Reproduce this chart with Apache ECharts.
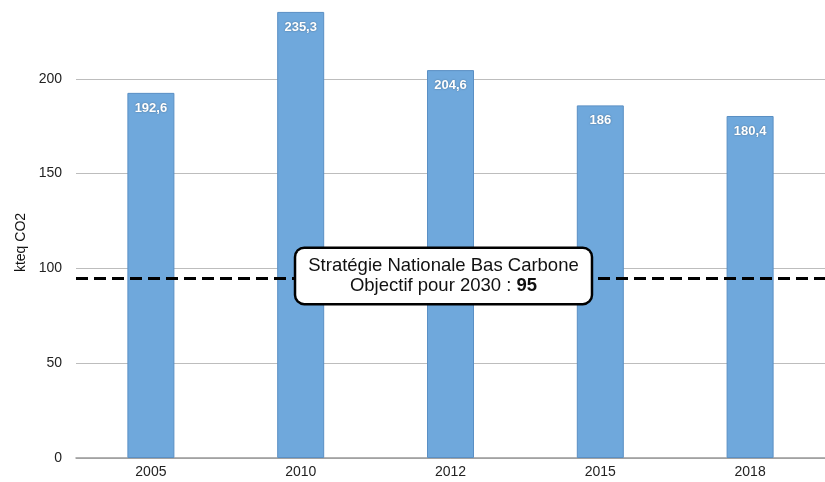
<!DOCTYPE html>
<html><head><meta charset="utf-8">
<script src="https://cdn.jsdelivr.net/npm/echarts@6/dist/echarts.min.js"></script>
<style>html,body{margin:0;padding:0;background:#fff}#c{width:825px;height:482px}</style>
</head><body><div id="c"></div>
<script>
const categories = ['2005','2010','2012','2015','2018'];
const values = [192.6, 235.3, 204.6, 186, 180.4];
const targetValue = 95;
const targetTitle = 'Stratégie Nationale Bas Carbone';
const targetText = 'Objectif pour 2030 : ';
const yTicks = [0, 50, 100, 150, 200];

const chart = echarts.init(document.getElementById('c'));
chart.setOption({
  animation: false,
  textStyle: {fontFamily: 'Liberation Sans, Arial, sans-serif'},
  grid: {left: 76, right: -1, top: 3, bottom: 24},
  xAxis: {
    type: 'category', data: categories,
    axisLine: {lineStyle: {color: '#999', width: 1.5}},
    axisTick: {show: false},
    axisLabel: {color: '#222', fontSize: 14, margin: 7}
  },
  yAxis: {
    type: 'value', min: 0, max: 240, interval: 50,
    name: 'kteq CO2', nameLocation: 'middle', nameGap: 46,
    nameTextStyle: {color: '#111', fontSize: 14, padding: [0, 0, 0, -24]},
    axisLine: {show: false}, axisTick: {show: false},
    axisLabel: {color: '#222', fontSize: 14, margin: 14, showMaxLabel: false,
      formatter: v => yTicks.includes(v) ? String(v) : ''},
    splitLine: {lineStyle: {color: '#bdbdbd', width: 1}, showMaxLine: false}
  },
  series: [{
    type: 'bar', data: values, barWidth: 47,
    itemStyle: {color: '#6fa8dc', borderColor: '#5a8fc4', borderWidth: 1},
    label: {
      show: true, position: 'insideTop', distance: 9,
      color: '#fff', fontSize: 13, fontWeight: 'bold',
      textShadowColor: 'rgba(0,0,0,0.35)', textShadowBlur: 2,
      formatter: p => String(p.value).replace('.', ',')
    },
    markLine: {
      symbol: 'none', silent: true,
      lineStyle: {color: '#000', type: [12, 6], width: 3},
      data: [{yAxis: targetValue}],
      label: {
        position: 'middle', offset: [-7, 30],
        formatter: targetTitle + '\n' + targetText + '{b|' + targetValue + '}',
        color: '#111', fontSize: 18.5, lineHeight: 20, align: 'center',
        backgroundColor: '#fff', borderColor: '#000', borderWidth: 2.5, borderRadius: 8,
        padding: [7, 12, 7, 12],
        rich: {b: {fontWeight: 'bold', fontSize: 18.5, lineHeight: 20, color: '#111'}}
      }
    }
  }]
});
</script></body></html>
